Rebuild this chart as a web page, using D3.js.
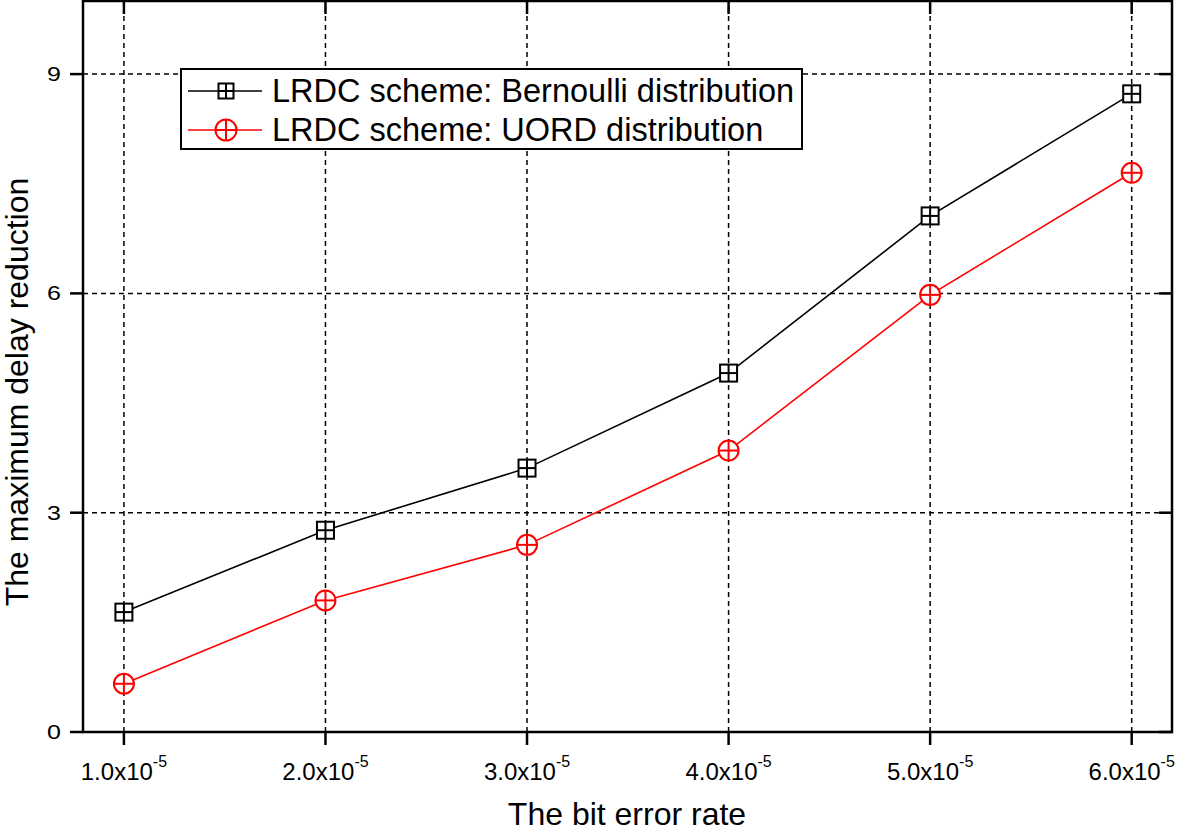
<!DOCTYPE html>
<html>
<head>
<meta charset="utf-8">
<script src="https://cdn.jsdelivr.net/npm/d3@7"></script>
<style>
  body { margin: 0; background: #fff; }
  svg text { font-family: "Liberation Sans", Arial, Helvetica, sans-serif; }
</style>
</head>
<body>
<div id="chart"></div>
<script>
// bit error rate (in units of 1e-5)
const berValues = [1, 2, 3, 4, 5, 6];
const berLabels = ['1.0', '2.0', '3.0', '4.0', '5.0', '6.0'];
const bernoulli = [1.64, 2.76, 3.61, 4.91, 7.06, 8.73];
const uord = [0.66, 1.80, 2.56, 3.85, 5.98, 7.65];
const yTicks = [0, 3, 6, 9];
const seriesNames = ['LRDC scheme: Bernoulli distribution', 'LRDC scheme: UORD distribution'];

const width = 1178, height = 832;
const margin = { top: 1, right: 6, bottom: 100, left: 83 };

const svg = d3.select('#chart').append('svg')
    .attr('width', width)
    .attr('height', height);

const x = d3.scaleLinear().domain([0.797, 6.2]).range([margin.left, width - margin.right]);
const y = d3.scaleLinear().domain([0, 10]).range([height - margin.bottom, margin.top]);

const x0 = margin.left, x1 = width - margin.right;
const y0 = height - margin.bottom, y1 = margin.top;

// grid
const grid = svg.append('g').attr('stroke', '#000').attr('stroke-width', 1.5).attr('stroke-dasharray', '5,4');
grid.selectAll('.gx').data(berValues).enter().append('line')
    .attr('x1', d => x(d)).attr('x2', d => x(d)).attr('y1', y0).attr('y2', y1);
grid.selectAll('.gy').data(yTicks.filter(d => d > 0)).enter().append('line')
    .attr('y1', d => y(d)).attr('y2', d => y(d)).attr('x1', x0).attr('x2', x1);

// ticks
const ticks = svg.append('g').attr('stroke', '#000').attr('stroke-width', 2.5);
berValues.forEach(d => {
    ticks.append('line').attr('x1', x(d)).attr('x2', x(d)).attr('y1', y0).attr('y2', y0 + 13);
    ticks.append('line').attr('x1', x(d)).attr('x2', x(d)).attr('y1', y1).attr('y2', y1 + 13);
});
yTicks.forEach(d => {
    ticks.append('line').attr('y1', y(d)).attr('y2', y(d)).attr('x1', x0 - 13).attr('x2', x0);
    ticks.append('line').attr('y1', y(d)).attr('y2', y(d)).attr('x1', x1 - 13).attr('x2', x1);
});

// frame
svg.append('rect')
    .attr('x', x0).attr('y', y1).attr('width', x1 - x0).attr('height', y0 - y1)
    .attr('fill', 'none').attr('stroke', '#000').attr('stroke-width', 2.5);

// tick labels (y labels are a bit wide in the original, so stretch them)
svg.selectAll('.ylab').data(yTicks).enter().append('text')
    .attr('transform', d => `translate(${x0 - 22},${y(d) + 7}) scale(1.25,1)`)
    .attr('text-anchor', 'end').attr('font-size', 20)
    .text(d => d);

berValues.forEach((d, i) => {
    const t = svg.append('text')
        .attr('x', x(d)).attr('y', y0 + 48)
        .attr('text-anchor', 'middle').attr('font-size', 24);
    t.append('tspan').text(berLabels[i] + 'x10');
    t.append('tspan').attr('dy', -13).attr('font-size', 16).text('-5');
});

// axis titles
svg.append('text')
    .attr('x', 627).attr('y', 825)
    .attr('text-anchor', 'middle').attr('font-size', 32)
    .text('The bit error rate');
svg.append('text')
    .attr('transform', 'translate(28,392) rotate(-90)')
    .attr('text-anchor', 'middle').attr('font-size', 32)
    .text('The maximum delay reduction');

// marker drawers
function drawSquare(g, cx, cy, color, s = 8.5) {
    g.append('rect').attr('x', cx - s).attr('y', cy - s).attr('width', 2 * s).attr('height', 2 * s)
        .attr('fill', '#fff').attr('stroke', color).attr('stroke-width', 2);
    g.append('line').attr('x1', cx - s).attr('x2', cx + s).attr('y1', cy).attr('y2', cy).attr('stroke', color).attr('stroke-width', 2);
    g.append('line').attr('x1', cx).attr('x2', cx).attr('y1', cy - s).attr('y2', cy + s).attr('stroke', color).attr('stroke-width', 2);
}
function drawCircle(g, cx, cy, color, r = 10) {
    g.append('circle').attr('cx', cx).attr('cy', cy).attr('r', r)
        .attr('fill', '#fff').attr('stroke', color).attr('stroke-width', 2);
    g.append('line').attr('x1', cx - r).attr('x2', cx + r).attr('y1', cy).attr('y2', cy).attr('stroke', color).attr('stroke-width', 2);
    g.append('line').attr('x1', cx).attr('x2', cx).attr('y1', cy - r).attr('y2', cy + r).attr('stroke', color).attr('stroke-width', 2);
}

const series = [
    { values: bernoulli, color: '#000', marker: drawSquare, legendSize: 7.5 },
    { values: uord, color: '#ff0000', marker: drawCircle, legendSize: 10.5 }
];

const line = d3.line().x((d, i) => x(berValues[i])).y(d => y(d));

series.forEach(s => {
    svg.append('path').datum(s.values)
        .attr('d', line).attr('fill', 'none')
        .attr('stroke', s.color).attr('stroke-width', 1.6);
    const g = svg.append('g');
    s.values.forEach((v, i) => s.marker(g, x(berValues[i]), y(v), s.color));
});

// legend
const legend = svg.append('g');
legend.append('rect')
    .attr('x', 181).attr('y', 69).attr('width', 621).attr('height', 80)
    .attr('fill', '#fff').attr('stroke', '#000').attr('stroke-width', 2);
series.forEach((s, i) => {
    const ly = 91 + i * 39;
    legend.append('line').attr('x1', 188).attr('x2', 262).attr('y1', ly).attr('y2', ly)
        .attr('stroke', s.color).attr('stroke-width', 1.6);
    s.marker(legend, 226, ly, s.color, s.legendSize);
    legend.append('text')
        .attr('x', 272).attr('y', ly + 11)
        .attr('font-size', 32.5)
        .text(seriesNames[i]);
});
</script>
</body>
</html>
